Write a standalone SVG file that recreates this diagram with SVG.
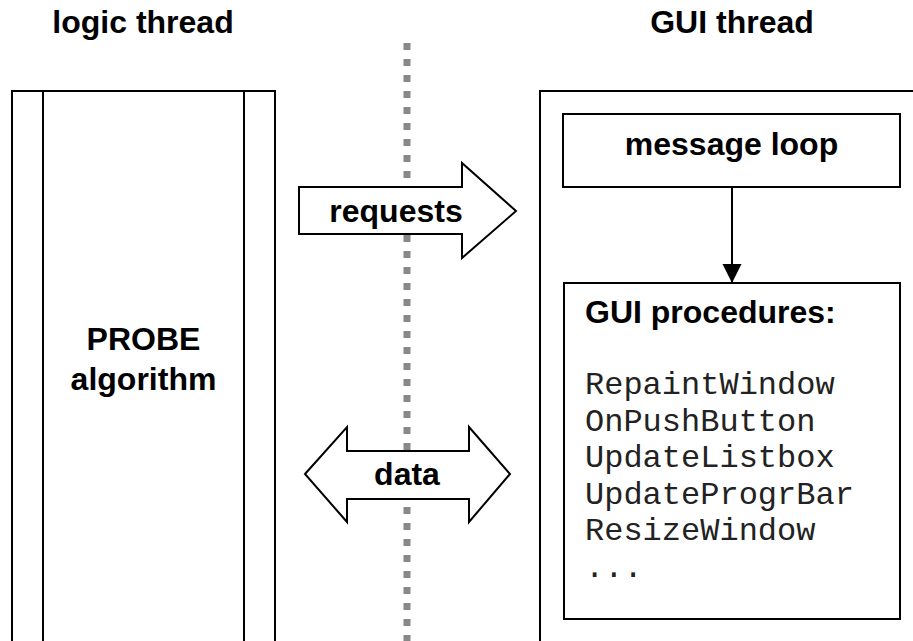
<svg xmlns="http://www.w3.org/2000/svg" width="913" height="641" viewBox="0 0 913 641">
<style>
.b{font-family:"Liberation Sans",Arial,sans-serif;font-weight:bold;font-size:32px;fill:#000;text-anchor:middle}
.bl{font-family:"Liberation Sans",Arial,sans-serif;font-weight:bold;font-size:32px;fill:#000}
.m{font-family:"Liberation Mono","Courier New",monospace;font-size:32px;fill:#222}
.box{fill:#fff;stroke:#000;stroke-width:2}
.ln{stroke:#000;stroke-width:2;fill:none}
</style>
<defs>
<marker id="ah" markerWidth="19" markerHeight="21" refX="19" refY="9.5" orient="auto" markerUnits="userSpaceOnUse">
<path d="M0,0 L19,9.5 L0,19 Z" fill="#000"/>
</marker>
</defs>
<rect width="913" height="641" fill="#fff"/>
<text class="b" x="143" y="33">logic thread</text>
<text class="b" x="732" y="33">GUI thread</text>
<g id="logic">
<rect class="box" x="12" y="91" width="263" height="600"/>
<line class="ln" x1="43" y1="91" x2="43" y2="641"/>
<line class="ln" x1="244" y1="91" x2="244" y2="641"/>
<text class="b" x="143.5" y="350">PROBE</text>
<text class="b" x="143.5" y="390">algorithm</text>
</g>
<g id="divider">
<line x1="407" y1="43" x2="407" y2="641" stroke="#888" stroke-width="7" stroke-dasharray="7 9"/>
</g>
<g id="gui">
<rect class="box" x="540" y="91" width="420" height="600"/>
</g>
<g id="msgloop">
<rect class="box" x="563" y="114" width="337" height="73"/>
<text class="b" x="731.5" y="155">message loop</text>
</g>
<g id="procs">
<rect class="box" x="564" y="283" width="336" height="336"/>
<text class="bl" x="585" y="323">GUI procedures:</text>
<text class="m" x="585" y="394">RepaintWindow</text>
<text class="m" x="585" y="430.5">OnPushButton</text>
<text class="m" x="585" y="467">UpdateListbox</text>
<text class="m" x="585" y="503.5">UpdateProgrBar</text>
<text class="m" x="585" y="540">ResizeWindow</text>
<text class="m" x="585" y="576.5">...</text>
</g>
<g id="connectors">
<g id="requests">
<polygon class="box" points="299,187 462,187 462,163 516,211 462,258 462,234 299,234"/>
<text class="b" x="396" y="222">requests</text>
</g>
<g id="data">
<polygon class="box" points="305,474 347,427 347,451 469,451 469,427 510,474 469,522 469,499 347,499 347,522"/>
<text class="b" x="407" y="485">data</text>
</g>
<line class="ln" x1="732" y1="187" x2="732" y2="283" marker-end="url(#ah)"/>
</g>
</svg>
